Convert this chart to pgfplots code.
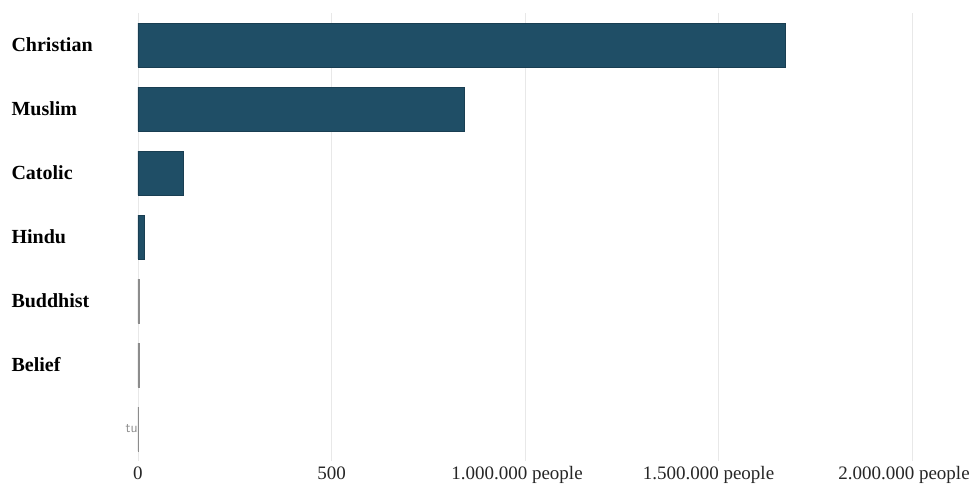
\documentclass[border=0pt]{standalone}
\usepackage{fontspec}
\setmainfont{Liberation Serif}
\usepackage{pgfplots}
\pgfplotsset{compat=1.18}
\definecolor{barcol}{RGB}{31,78,102}
\definecolor{gridcol}{RGB}{232,232,232}
\begin{document}
\begin{tikzpicture}
\useasboundingbox (-138pt,-29pt) rectangle (838pt,461pt);
\begin{axis}[
  at={(0pt,0pt)}, anchor=south west,
  scale only axis,
  width=774pt, height=448pt,
  xbar, bar width=44pt, bar shift=0pt,
  xmin=0, xmax=2000000,
  ymin=-0.5, ymax=6.5,
  y dir=reverse,
  axis line style={draw=none},
  major tick length=0pt,
  xmajorgrids, grid style={gridcol, line width=0.8pt},
  xtick={0,500000,1000000,1500000,2000000},
  xticklabels={0,500,1.000.000 people\hspace*{16pt},1.500.000 people\hspace*{20pt},2.000.000 people\hspace*{16pt}},
  xticklabel style={font=\fontsize{19}{22}\selectfont, text=black!85, anchor=north, yshift=-2pt},
  ytick={0,1,2,3,4,5,6},
  yticklabels={Christian,Muslim,Catolic,Hindu,Buddhist,Belief,{\makebox[126pt][r]{\color{black!45}\fontsize{14}{16}\mdseries\sffamily tu}}},
  yticklabel style={font=\fontsize{20}{24}\selectfont\bfseries, anchor=west, xshift=-130pt, text=black},
  scaled x ticks=false,
  clip=false,
]
\addplot[fill=barcol, draw=barcol!80!black] coordinates {
  (1672000,0) (842000,1) (116000,2) (15000,3)
};
\addplot[fill=black!45, draw=black!45] coordinates {
  (4000,4) (2000,5) (1000,6)
};
\end{axis}
\end{tikzpicture}
\end{document}
